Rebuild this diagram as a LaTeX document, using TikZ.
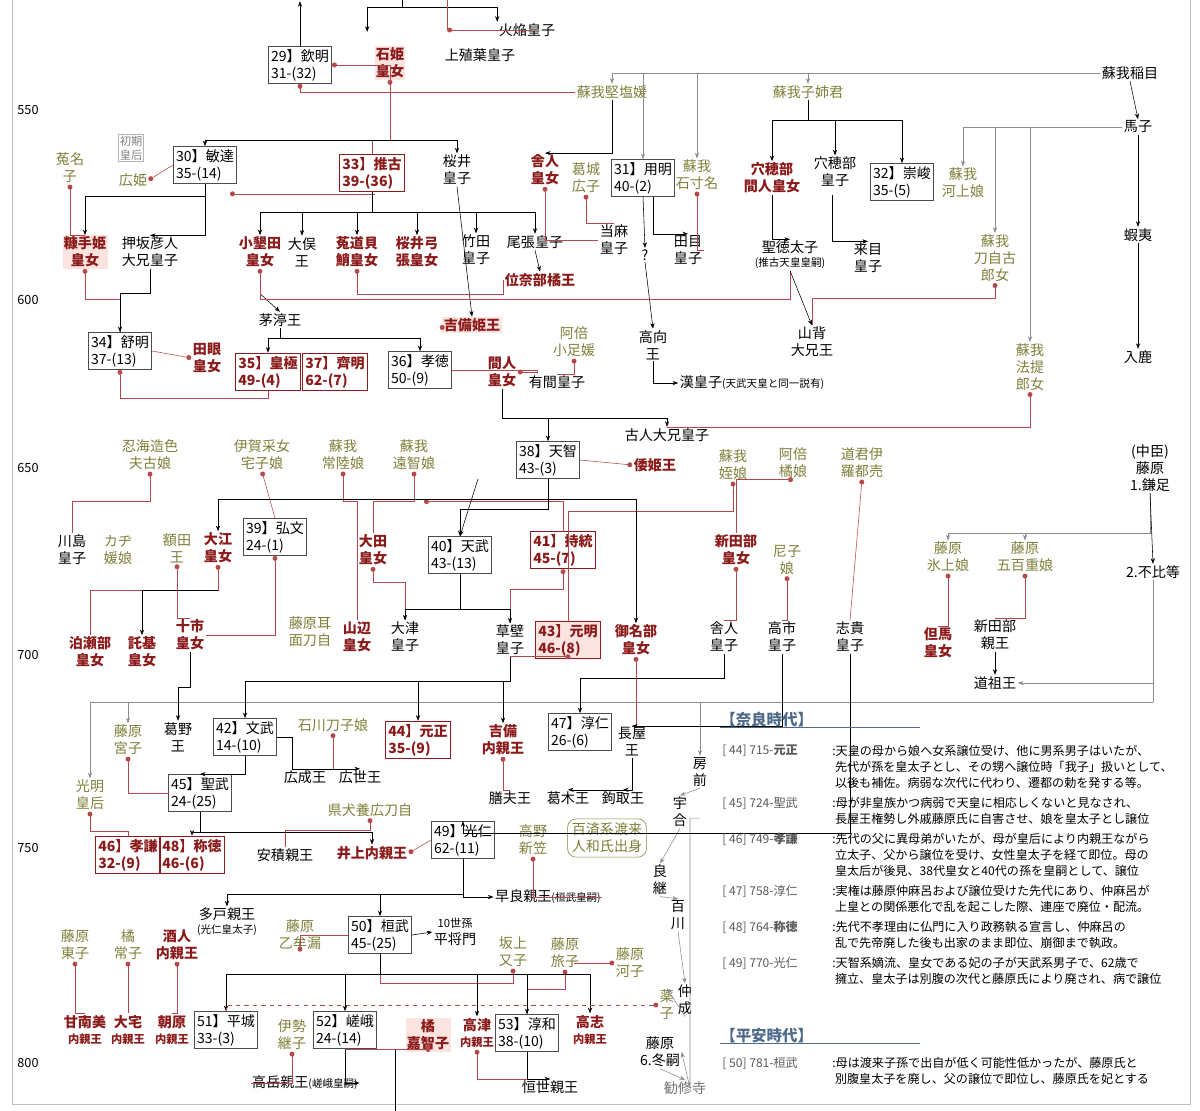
\documentclass[tikz,border=0pt]{standalone}
\usepackage{fontspec}
\setmainfont{Noto Sans CJK JP}
\usetikzlibrary{arrows.meta,positioning}
\definecolor{dred}{HTML}{8B1A1A}
\definecolor{olv}{HTML}{7F7F3A}
\definecolor{lred}{HTML}{B5484A}
\definecolor{pnk}{HTML}{FBE3E0}
\definecolor{hdr}{HTML}{4F6B8A}
\newcommand\sm[1]{{\fontsize{8}{10}\selectfont #1}}
\newcommand\tn[1]{{\fontsize{7.5}{9}\selectfont #1}}
\tikzset{
  nm/.style={align=center, inner sep=1pt, font=\fontsize{10}{12}\selectfont},
  rn/.style={nm, text=dred, font=\fontsize{10}{12}\selectfont\bfseries},
  ol/.style={nm, text=olv},
  pk/.style={rn, fill=pnk},
  bx/.style={nm, draw=black!70, align=left, inner sep=2pt},
  rb/.style={bx, draw=dred, thick, text=dred, font=\fontsize{10}{12}\selectfont\bfseries},
  yr/.style={nm, font=\fontsize{9}{11}\selectfont},
  rl/.style={lred, {Circle[length=3.5pt]}-},
  kl/.style={black, -{Stealth[length=4pt]}},
  gl/.style={black!45, -{Stealth[length=4pt]}},
  tx/.style={anchor=north west, inner sep=0pt, font=\fontsize{8.6}{11.2}\selectfont, align=left}
}
\begin{document}
\begin{tikzpicture}[x=0.025cm, y=-0.025cm]
\useasboundingbox (0,0) rectangle (1200,1110);
\draw[black!25] (12,-2) rectangle (1190,1104);

% years
\foreach \y/\t in {110/550, 300/600, 468/650, 655/700, 848/750, 1063/800}
  \node[yr] at (28,\y) {\t};

% 6th century
\node[nm] (hono) at (527,30) {火焔皇子};
\node[bx] (kinmei) at (300,65) {29】欽明\\31-(32)};
\node[pk] (ishihime) at (390,63) {石姫\\皇女};
\node[nm] (kamisa) at (480,55) {上殖葉皇子};
\node[nm] (iname) at (1130,73) {蘇我稲目};
\node[ol] (kitashi) at (612,92) {蘇我堅塩媛};
\node[ol] (oane) at (808,92) {蘇我子姉君};
\node[nm] (umako) at (1138,127) {馬子};
\node[nm, draw=black!30, text=black!50, font=\fontsize{8}{10}\selectfont] (shoki) at (131,148) {初期\\皇后};
\node[ol] (unako) at (70,168) {菟名\\子};
\node[ol] (hirohime) at (133,180) {広姫};
\node[bx] (bidatsu) at (205,165) {30】敏達\\35-(14)};
\node[rb] (suiko) at (372,173) {33】推古\\39-(36)};
\node[nm] (sakurai) at (457,170) {桜井\\皇子};
\node[rn] (toneri1) at (545,170) {舎人\\皇女};
\node[ol] (hiroko) at (586,178) {葛城\\広子};
\node[bx] (yomei) at (643,178) {31】用明\\40-(2)};
\node[ol] (ishikina) at (697,175) {蘇我\\石寸名};
\node[rn] (anahobe) at (772,178) {穴穂部\\間人皇女};
\node[nm] (anahoo) at (835,172) {穴穂部\\皇子};
\node[bx] (sushun) at (902,182) {32】崇峻\\35-(5)};
\node[ol] (kawakami) at (963,183) {蘇我\\河上娘};
\node[nm] (emishi) at (1138,235) {蝦夷};

\node[pk] (nukate) at (85,252) {糠手姫\\皇女};
\node[nm] (oshisaka) at (150,252) {押坂彦人\\大兄皇子};
\node[rn] (owari1) at (260,252) {小墾田\\皇女};
\node[nm] (omata) at (302,252) {大俣\\王};
\node[rn] (uji) at (357,252) {菟道貝\\鮹皇女};
\node[rn] (yumihari) at (417,252) {桜井弓\\張皇女};
\node[nm] (takeda) at (476,250) {竹田\\皇子};
\node[nm] (owari) at (535,242) {尾張皇子};
\node[nm] (taima) at (614,240) {当麻\\皇子};
\node[nm] (qq) at (645,255) {?};
\node[nm] (tame) at (688,250) {田目\\皇子};
\node[nm] (shotoku) at (790,255) {聖徳太子\\[-2pt]\tn{(推古天皇皇嗣)}};
\node[nm] (kume) at (868,258) {来目\\皇子};
\node[ol] (tojiko) at (995,258) {蘇我\\刀自古\\郎女};
\node[rn] (inabe) at (540,280) {位奈部橘王};
\node[rn, fill=pnk] (kibihime) at (472,325) {吉備姫王};
\node[nm] (chinu) at (280,320) {茅渟王};
\node[ol] (otarashi) at (574,342) {阿倍\\小足媛};
\node[nm] (takamuku) at (653,345) {高向\\王};
\node[nm] (yamashiro) at (812,342) {山背\\大兄王};
\node[nm] (iruka) at (1138,357) {入鹿};
\node[ol] (hote) at (1030,367) {蘇我\\法提\\郎女};

% 7th century
\node[bx] (jomei) at (120,351) {34】舒明\\37-(13)};
\node[rn] (tame2) at (207,358) {田眼\\皇女};
\node[rb] (kogyoku) at (268,372) {35】皇極\\49-(4)};
\node[rb] (saimei) at (335,372) {37】齊明\\62-(7)};
\node[bx] (kotoku) at (420,370) {36】孝徳\\50-(9)};
\node[rn] (hashi) at (502,372) {間人\\皇女};
\node[nm] (arima) at (557,382) {有間皇子};
\node[nm] (aya) at (752,383) {漢皇子\tn{(天武天皇と同一説有)}};
\node[nm] (furuhito) at (667,435) {古人大兄皇子};
\node[bx] (tenji) at (548,460) {38】天智\\43-(3)};
\node[rn] (yamato) at (655,465) {倭姫王};
\node[ol] (shikobu) at (150,455) {忍海造色\\夫古娘};
\node[ol] (yakako) at (262,455) {伊賀采女\\宅子娘};
\node[ol] (hitachi) at (343,455) {蘇我\\常陸娘};
\node[ol] (ochi) at (414,455) {蘇我\\遠智娘};
\node[ol] (mei) at (733,465) {蘇我\\姪娘};
\node[ol] (tachibana) at (793,463) {阿倍\\橘娘};
\node[ol] (iratsume) at (862,463) {道君伊\\羅都売};
\node[nm] (kamatari) at (1150,468) {(中臣)\\藤原\\1.鎌足};

\node[nm] (kawashima) at (72,550) {川島\\皇子};
\node[ol] (kaji) at (118,550) {カヂ\\媛娘};
\node[ol] (nukata) at (177,548) {額田\\王};
\node[rn] (oe) at (218,548) {大江\\皇女};
\node[bx] (kobun) at (275,537) {39】弘文\\24-(1)};
\node[rn] (ota) at (373,550) {大田\\皇女};
\node[bx] (tenmu) at (460,555) {40】天武\\43-(13)};
\node[rb] (jito) at (563,550) {41】持統\\45-(7)};
\node[rn] (niitabe) at (736,550) {新田部\\皇女};
\node[ol] (amako) at (787,560) {尼子\\娘};
\node[ol] (hikami) at (948,557) {藤原\\氷上娘};
\node[ol] (ioe) at (1025,557) {藤原\\五百重娘};
\node[nm] (fuhito) at (1153,572) {2.不比等};

\node[rn] (hatsuse) at (90,652) {泊瀬部\\皇女};
\node[rn] (taki) at (142,652) {託基\\皇女};
\node[rn] (tochi) at (190,635) {十市\\皇女};
\node[ol] (mimi) at (310,632) {藤原耳\\面刀自};
\node[rn] (yamanobe) at (357,637) {山辺\\皇女};
\node[nm] (otsu) at (405,637) {大津\\皇子};
\node[nm] (kusakabe) at (510,640) {草壁\\皇子};
\node[rb, fill=pnk] (genmei) at (568,640) {43】元明\\46-(8)};
\node[rn] (minabe) at (636,640) {御名部\\皇女};
\node[nm] (toneri) at (724,637) {舎人\\皇子};
\node[nm] (takechi) at (782,637) {高市\\皇子};
\node[nm] (shiki) at (850,637) {志貴\\皇子};
\node[rn] (tajima) at (938,643) {但馬\\皇女};
\node[nm] (niitabeo) at (995,635) {新田部\\親王};
\node[nm] (funado) at (995,683) {道祖王};

% 8th century
\node[ol] (miyako) at (128,740) {藤原\\宮子};
\node[nm] (kadono) at (178,737) {葛野\\王};
\node[bx] (monmu) at (245,737) {42】文武\\14-(10)};
\node[ol] (tojime) at (333,725) {石川刀子娘};
\node[rb] (gensho) at (418,740) {44】元正\\35-(9)};
\node[rn] (kibi) at (503,740) {吉備\\内親王};
\node[bx] (junnin) at (580,732) {47】淳仁\\26-(6)};
\node[nm] (nagaya) at (632,742) {長屋\\王};
\node[nm] (fusasaki) at (700,772) {房\\前};
\node[nm] (hironari) at (305,777) {広成王};
\node[nm] (hiroyo) at (360,777) {広世王};
\node[ol] (komyo) at (90,795) {光明\\皇后};
\node[bx] (shomu) at (200,793) {45】聖武\\24-(25)};
\node[nm] (kashiwade) at (510,798) {膳夫王};
\node[nm] (katsuragi) at (568,798) {葛木王};
\node[nm] (kagitori) at (623,798) {鉤取王};
\node[nm] (umakai) at (680,812) {宇\\合};
\node[ol] (hirotoji) at (370,810) {県犬養広刀自};
\node[rb] (koken) at (128,855) {46】孝謙\\32-(9)};
\node[rb] (shotoku2) at (192,855) {48】称徳\\46-(6)};
\node[nm] (asaka) at (285,855) {安積親王};
\node[rn] (inoue) at (372,853) {井上内親王};
\node[bx] (konin) at (463,840) {49】光仁\\62-(11)};
\node[ol] (niigasa) at (533,840) {高野\\新笠};
\node[ol, draw=olv, rounded corners=6pt, inner sep=3pt] (kudara) at (607,838) {百済系渡来\\人和氏出身};
\node[nm] (yoshitsugu) at (660,880) {良\\継};
\node[nm] (momokawa) at (678,915) {百\\川};
\node[nm] (sawara) at (548,897) {早良親王\tn{(桓武皇嗣)}};

\node[nm] (osabe) at (227,922) {多戸親王\\[-2pt]\tn{(光仁皇太子)}};
\node[ol] (otomuro) at (300,935) {藤原\\乙牟漏};
\node[bx] (kanmu) at (380,935) {50】桓武\\45-(25)};
\node[nm] (masakado) at (455,932) {\sm{10世孫}\\平将門};
\node[ol] (matako) at (513,952) {坂上\\又子};
\node[ol] (tabiko) at (565,953) {藤原\\旅子};
\node[ol] (kawako) at (630,963) {藤原\\河子};
\node[ol] (azumako) at (75,945) {藤原\\東子};
\node[ol] (tsuneko) at (128,945) {橘\\常子};
\node[rn] (sakahito) at (177,945) {酒人\\内親王};
\node[nm] (nakanari) at (685,1000) {仲\\成};
\node[ol] (kusuko) at (667,1005) {薬\\子};

\node[rn] (kannabi) at (85,1030) {甘南美\\\sm{内親王}};
\node[rn] (oyake) at (128,1030) {大宅\\\sm{内親王}};
\node[rn] (asahara) at (172,1030) {朝原\\\sm{内親王}};
\node[bx] (heizei) at (226,1030) {51】平城\\33-(3)};
\node[ol] (tsuguko) at (292,1035) {伊勢\\継子};
\node[bx] (saga) at (345,1030) {52】嵯峨\\24-(14)};
\node[pk] (kachiko) at (428,1035) {橘\\嘉智子};
\node[rn] (kozu) at (477,1033) {高津\\\sm{内親王}};
\node[bx] (junna) at (527,1033) {53】淳和\\38-(10)};
\node[rn] (koshi) at (590,1030) {高志\\\sm{内親王}};
\node[nm] (fuyutsugu) at (660,1052) {藤原\\6.冬嗣};
\node[nm, text=black!55] (kajuji) at (685,1088) {勧修寺};
\node[nm] (takaoka) at (305,1083) {高岳親王\tn{(嵯峨皇嗣)}};
\node[nm] (tsuneyo) at (550,1087) {恒世親王};

% top stems
\draw[kl] (kinmei.north) -- ++(0,-45);
\draw[black] (hono.north west) ++(-95,-30) -- ++(0,15) coordinate (c0);
\draw[kl] (c0) -- ++(-35,0) -- ++(0,25);
\draw[kl] (c0) -| (hono.north west);
\draw[lred] (hono.west) ++(-50,-30) -- ++(0,30) coordinate (c1);
\draw[rl] (c1) -- ++(85,0);
% Kinmei generation
\draw[rl] (kinmei.east) -| (ishihime.south);
\draw[rl] (ishihime.south) -- ++(0,60) -| (suiko.north);
\draw[kl] (ishihime.south) ++(0,60) -| (bidatsu.north);
\draw[kl] (ishihime.south) ++(0,60) -| (sakurai.north);
\draw[rl] (kinmei.south) |- (kitashi.west);
\draw[gl] (iname.west) -| (kitashi.north);
\draw[gl] (iname.west) -| (oane.north);
\draw[gl] (iname.west) -| (yomei.north);
\draw[gl] (iname.west) -| (ishikina.north);
\draw[kl] (iname.south) -- (umako.north);
\draw[kl] (umako.south) -- (emishi.north);
\draw[kl] (emishi.south) -- (iruka.north);
\draw[gl] (umako.west) -| (kawakami.north);
\draw[gl] (umako.west) -| (tojiko.north);
\draw[gl] (umako.west) -| (hote.north);
\draw[kl] (oane.south) -- ++(0,20) -| (anahobe.north);
\draw[kl] (oane.south) ++(0,20) -| (sushun.north);
\draw[kl] (oane.south) ++(0,20) -| (anahoo.north);
\draw[kl] (kitashi.south) |- (toneri1.north);
% Bidatsu / Suiko children
\draw[rl] (unako.south) |- (nukate.north);
\draw[rl] (hirohime.east) -- (bidatsu.west);
\draw[kl] (bidatsu.south) |- (oshisaka.north);
\draw[kl] (bidatsu.south) ++(0,12) -| (nukate.north);
\draw[rl] (bidatsu.south) ++(25,10) -- ++(145,0);
\draw[kl] (suiko.south) -- ++(0,20) -| (owari1.north);
\draw[kl] (suiko.south) ++(0,20) -| (omata.north);
\draw[kl] (suiko.south) ++(0,20) -| (uji.north);
\draw[kl] (suiko.south) ++(0,20) -| (yumihari.north);
\draw[kl] (suiko.south) ++(0,20) -| (takeda.north);
\draw[kl] (suiko.south) ++(0,20) -| (owari.north);
\draw[rl] (toneri1.south) |- (taima.west);
\draw[rl] (hiroko.south) |- (taima.north);
\draw[kl] (yomei.south) -- (qq.north);
\draw[kl] (yomei.south) ++(10,0) |- (tame.north);
\draw[kl] (anahobe.south) |- (shotoku.north);
\draw[kl] (anahobe.south) ++(60,0) |- (kume.north);
\draw[rl] (ishikina.south) |- (tame.east);
\draw[kl] (sakurai.south) -- (kibihime.north);
\draw[kl] (owari.south) -- (inabe.north);
\draw[rl] (nukate.south) -- ++(0,30) -| (jomei.north);
\draw[kl] (oshisaka.south) -- ++(0,25) -| (jomei.north);
\draw[kl] (oshisaka.south) ++(110,25) -- (chinu.north);
\draw[rl] (owari1.south) -- ++(0,30) -| (shotoku.south);
\draw[rl] (uji.south) -- ++(0,25) -| (inabe.west);
\draw[kl] (qq.south) -- (takamuku.north);
\draw[kl] (shotoku.south) -- (yamashiro.north);
\draw[rl] (tojiko.south) -- ++(0,15) -| (yamashiro.north);
\draw[kl] (chinu.south) -- ++(0,10) -| (kogyoku.north);
\draw[kl] (chinu.south) ++(0,10) -| (kotoku.north);
\draw[rl] (kibihime.west) -- (chinu.south -| kibihime.west);
\draw[rl] (tame2.west) -- (jomei.east);
\draw[rl] (otarashi.south) |- (arima.north);
\draw[kl] (takamuku.south) |- (aya.west);
\draw[rl] (hote.south) |- (furuhito.north);
% Jomei x Kogyoku children
\draw[rl] (jomei.south) -- ++(0,28) -| (kogyoku.south);
\draw[kl] (hashi.south) -- ++(0,30) coordinate (c2) -| (tenji.north);
\draw[kl] (c2) -| (furuhito.north);
\draw[rl] (hashi.east) -- ++(20,0) |- (kotoku.east);
% Tenji wives and children
\draw[rl] (shikobu.south) -- ++(0,30) -| (kawashima.north);
\draw[rl] (yakako.south) -- (kobun.north);
\draw[rl] (hitachi.south) -- ++(0,30) -| (yamanobe.north);
\draw[rl] (ochi.south) -- ++(0,30) -| (ota.north);
\draw[rl] (ochi.south) ++(10,30) -| (jito.north);
\draw[rl] (yamato.west) -- (tenji.east);
\draw[rl] (mei.south) -- ++(0,30) -| (genmei.north);
\draw[rl] (tachibana.south) -| (niitabe.north);
\draw[rl] (iratsume.south) -- (shiki.north);
\draw[kl] (tenji.south) -- ++(0,20) -| (oe.north);
\draw[kl] (tenji.south) ++(0,20) -| (minabe.north);
\draw[kl] (tenji.south) -- ++(0,30) -| (tenmu.north);
\draw[kl] (tenji.south) ++(-70,0) -- (tenmu.north);
\draw[gl] (kamatari.south) -- ++(0,40) -| (hikami.north);
\draw[gl] (kamatari.south) ++(0,40) -| (ioe.north);
\draw[kl] (kamatari.south) -- (fuhito.north);
% Tenmu children
\draw[rl] (nukata.south) |- (tochi.north);
\draw[rl] (oe.south) -- ++(0,25) -| (hatsuse.north);
\draw[kl] (oe.south) ++(0,25) -| (taki.north);
\draw[rl] (kobun.south) |- (tochi.east);
\draw[rl] (ota.south) -- ++(0,15) -| (otsu.north);
\draw[rl] (jito.south) -- ++(0,20) -| (kusakabe.north);
\draw[kl] (tenmu.south) -- ++(0,35) -| (kusakabe.north);
\draw[kl] (tenmu.south) ++(0,35) -| (otsu.north);
\draw[rl] (niitabe.south) |- (toneri.north);
\draw[rl] (amako.south) |- (takechi.north);
\draw[rl] (ioe.south) |- (niitabeo.north);
\draw[rl] (hikami.south) |- (tajima.north);
\draw[kl] (niitabeo.south) -- (funado.north);
\draw[gl] (fuhito.south) |- (funado.east);
\draw[black!45] (fuhito.south) -- (fuhito.south |- 0,702) coordinate (c3);
\draw[gl] (c3) -| (komyo.north);
\draw[gl] (c3) -| (miyako.north);
\draw[gl] (c3) -| (fusasaki.north);
% Kusakabe x Genmei
\draw[kl] (kusakabe.south) -- ++(0,25) -| (monmu.north);
\draw[kl] (kusakabe.south) ++(0,25) -| (gensho.north);
\draw[kl] (kusakabe.south) ++(0,25) -| (kibi.north);
\draw[rl] (genmei.south) |- (kusakabe.south);
\draw[rl] (minabe.south) |- (nagaya.north);
\draw[kl] (takechi.south) |- (nagaya.north);
\draw[kl] (toneri.south) -- ++(0,25) -| (junnin.north);
\draw[kl] (tochi.south) -- ++(0,35) -| (kadono.north);
\draw[rl] (miyako.south) |- (shomu.west);
\draw[kl] (monmu.south) |- (shomu.north);
\draw[rl] (tojime.south) |- (hironari.north);
\draw[kl] (monmu.east) -- ++(15,0) |- (hiroyo.north);
\draw[rl] (kibi.south) |- (kashiwade.north);
\draw[kl] (nagaya.south) |- (katsuragi.north);
\draw[kl] (nagaya.south) |- (kagitori.north);
\draw[gl] (fusasaki.south) -- (umakai.north);
\draw[gl] (umakai.south) -- (yoshitsugu.north);
\draw[gl] (yoshitsugu.south) -- (momokawa.north);
\draw[gl] (momokawa.south) -- (nakanari.north);
\draw[gl] (nakanari.south) -- (kusuko.north);
\draw[gl] (fusasaki.south) ++(0,30) -| ++(-10,270) -- (fuyutsugu.east);
\draw[gl] (fuyutsugu.south) -- (kajuji.north);
% Shomu generation
\draw[rl] (komyo.south) -- ++(0,20) -| (koken.north);
\draw[kl] (shomu.south) -- ++(0,20) -| (shotoku2.north);
\draw[rl] (hirotoji.south) -- ++(0,12) -| (asaka.north);
\draw[kl] (shomu.south) ++(0,20) -| (inoue.north);
\draw[rl] (inoue.east) -- (konin.west);
\draw[kl] (shiki.south) -- ++(0,180) -| (konin.north);
\draw[rl] (niigasa.south) |- (sawara.east);
\draw[kl] (konin.south) |- (sawara.west);
\draw[kl] (konin.south) -- ++(0,35) -| (kanmu.north);
\draw[kl] (konin.south) ++(0,35) -| (osabe.north);
\draw[rl] (otomuro.south) |- (kanmu.west);
\draw[kl] (kanmu.east) -- (masakado.west);
\draw[rl] (matako.south) -- ++(0,15) -| (kanmu.south);
\draw[rl] (tabiko.south) -- ++(0,20) -| (junna.north);
\draw[rl] (kawako.west) -- ++(-40,0);
\draw[rl] (sakahito.south) |- (asahara.north);
\draw[rl] (azumako.south) |- (kannabi.north);
\draw[rl] (tsuneko.south) |- (oyake.north);
\draw[kl] (kanmu.south) -- ++(0,20) -| (heizei.north);
\draw[kl] (kanmu.south) ++(0,20) -| (saga.north);
\draw[kl] (kanmu.south) ++(0,20) -| (junna.north);
\draw[kl] (kanmu.south) ++(0,20) -| (kozu.north);
\draw[kl] (kanmu.south) ++(0,20) -| (koshi.north);
\draw[rl, dashed] (kusuko.west) -- ++(-20,0) -| (heizei.north);
\draw[rl] (tsuguko.south) |- (takaoka.west);
\draw[kl] (saga.south) |- (takaoka.east);
\draw[kl] (saga.south) ++(50,0) -- ++(0,75);
\draw[rl] (kachiko.south) |- (saga.south);
\draw[rl] (kozu.south) |- (tsuneyo.north);
\draw[kl] (junna.south) |- (tsuneyo.north);

% Text panel
\node[tx, text=hdr, font=\fontsize{11}{13}\selectfont\bfseries] (nara) at (720,712) {【奈良時代】};
\draw[hdr, thick] (nara.south west) -- ++(200,0);
\foreach \y/\k/\t in {
 745/{[ 44] 715-\textbf{元正}}/{:天皇の母から娘へ女系譲位受け、他に男系男子はいたが、\\\ 先代が孫を皇太子とし、その甥へ譲位時「我子」扱いとして、\\\ 以後も補佐。病弱な次代に代わり、遷都の勅を発する等。},
 797/{[ 45] 724-聖武}/{:母が非皇族かつ病弱で天皇に相応しくないと見なされ、\\\ 長屋王権勢し外戚藤原氏に自害させ、娘を皇太子とし譲位},
 833/{[ 46] 749-\textbf{孝謙}}/{:先代の父に異母弟がいたが、母が皇后により内親王ながら\\\ 立太子、父から譲位を受け、女性皇太子を経て即位。母の\\\ 皇太后が後見、38代皇女と40代の孫を皇嗣として、譲位},
 885/{[ 47] 758-淳仁}/{:実権は藤原仲麻呂および譲位受けた先代にあり、仲麻呂が\\\ 上皇との関係悪化で乱を起こした際、連座で廃位・配流。},
 921/{[ 48] 764-\textbf{称徳}}/{:先代不孝理由に仏門に入り政務執る宣言し、仲麻呂の\\\ 乱で先帝廃した後も出家のまま即位、崩御まで執政。},
 957/{[ 49] 770-光仁}/{:天智系嫡流、皇女である妃の子が天武系男子で、62歳で\\\ 擁立、皇太子は別腹の次代と藤原氏により廃され、病で譲位},
 1057/{[ 50] 781-桓武}/{:母は渡来子孫で出自が低く可能性低かったが、藤原氏と\\\ 別腹皇太子を廃し、父の譲位で即位し、藤原氏を妃とする}}
{
  \node[tx, text=black!65] at (722,\y) {\k};
  \node[tx] at (832,\y) {\t};
}
\node[tx, text=hdr, font=\fontsize{11}{13}\selectfont\bfseries] (heian) at (720,1028) {【平安時代】};
\draw[hdr, thick] (heian.south west) -- ++(200,0);
\end{tikzpicture}
\end{document}
